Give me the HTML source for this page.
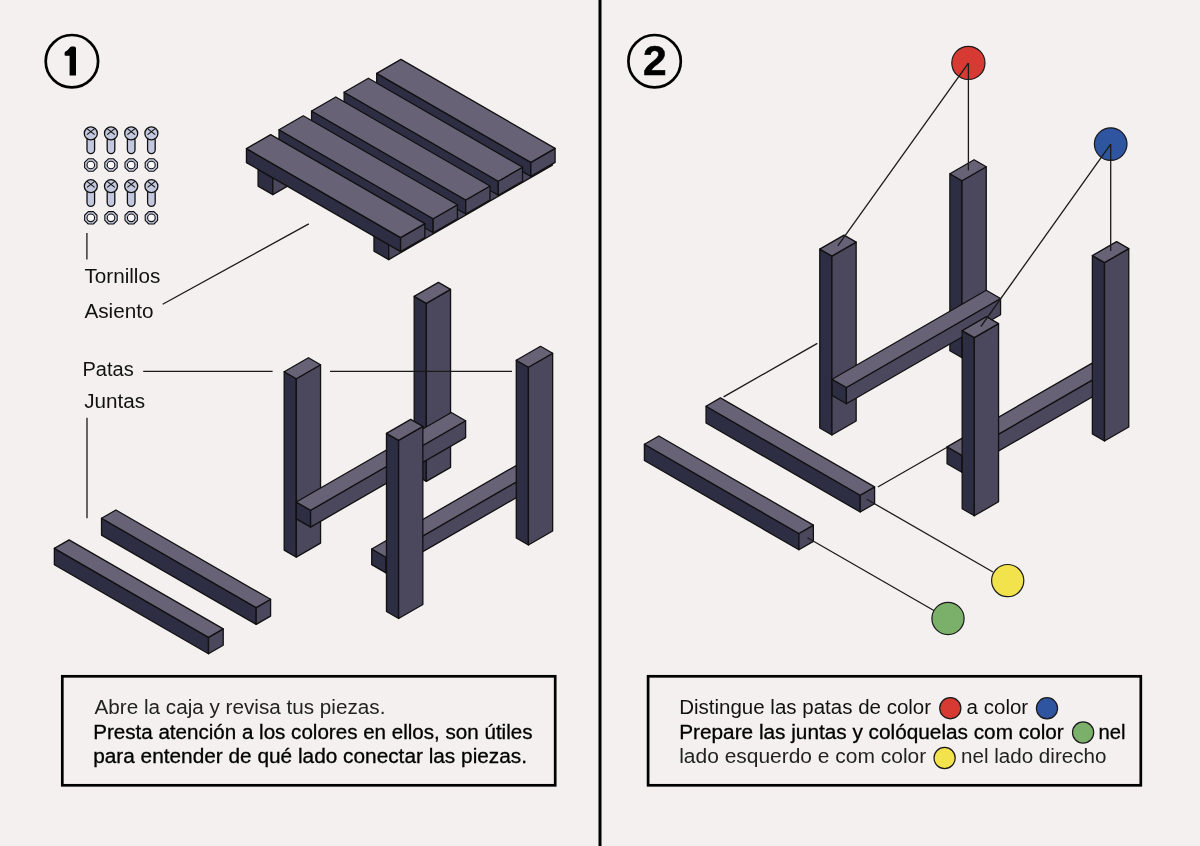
<!DOCTYPE html>
<html><head><meta charset="utf-8"><style>
html,body{margin:0;padding:0;background:#f3f0ef;}
svg{display:block;}
text{font-family:'Liberation Sans',sans-serif;}
svg{will-change:transform;}
</style></head><body>
<svg width="1200" height="846" viewBox="0 0 1200 846">
<rect width="1200" height="846" fill="#f3f0ef"/>
<rect x="598.5" y="0" width="3" height="846" fill="#000"/>
<g stroke="#111" stroke-width="1.3" stroke-linejoin="round">
<polygon points="272.8,177.9 258.08,169.4 258.08,186.1 272.8,194.6" fill="#2d2d43"/><polygon points="272.8,177.9 436.48,83.4 436.48,100.1 272.8,194.6" fill="#4b485e"/>
<polygon points="388.7,242.9 373.98,234.4 373.98,251.1 388.7,259.6" fill="#2d2d43"/><polygon points="388.7,242.9 552.38,148.4 552.38,165.1 388.7,259.6" fill="#4b485e"/>
<polygon points="530.84,162.4 376.69,73.4 376.69,87.4 530.84,176.4" fill="#2d2d43"/><polygon points="530.84,162.4 555.09,148.4 555.09,162.4 530.84,176.4" fill="#4b485e"/><polygon points="530.84,162.4 376.69,73.4 400.94,59.4 555.09,148.4" fill="#686277"/>
<polygon points="498.28,181.2 344.13,92.2 344.13,106.2 498.28,195.2" fill="#2d2d43"/><polygon points="498.28,181.2 522.53,167.2 522.53,181.2 498.28,195.2" fill="#4b485e"/><polygon points="498.28,181.2 344.13,92.2 368.38,78.2 522.53,167.2" fill="#686277"/>
<polygon points="465.72,200 311.57,111 311.57,125 465.72,214" fill="#2d2d43"/><polygon points="465.72,200 489.97,186 489.97,200 465.72,214" fill="#4b485e"/><polygon points="465.72,200 311.57,111 335.82,97 489.97,186" fill="#686277"/>
<polygon points="433.16,218.8 279.01,129.8 279.01,143.8 433.16,232.8" fill="#2d2d43"/><polygon points="433.16,218.8 457.41,204.8 457.41,218.8 433.16,232.8" fill="#4b485e"/><polygon points="433.16,218.8 279.01,129.8 303.26,115.8 457.41,204.8" fill="#686277"/>
<polygon points="400.6,237.6 246.45,148.6 246.45,162.6 400.6,251.6" fill="#2d2d43"/><polygon points="400.6,237.6 424.85,223.6 424.85,237.6 400.6,251.6" fill="#4b485e"/><polygon points="400.6,237.6 246.45,148.6 270.7,134.6 424.85,223.6" fill="#686277"/>
<polygon points="426.3,303.4 414.18,296.4 414.18,474.4 426.3,481.4" fill="#2d2d43"/><polygon points="426.3,303.4 450.55,289.4 450.55,467.4 426.3,481.4" fill="#4b485e"/><polygon points="426.3,303.4 414.18,296.4 438.42,282.4 450.55,289.4" fill="#686277"/>
<polygon points="296.3,378.7 284.18,371.7 284.18,550.1 296.3,557.1" fill="#2d2d43"/><polygon points="296.3,378.7 320.55,364.7 320.55,543.1 296.3,557.1" fill="#4b485e"/><polygon points="296.3,378.7 284.18,371.7 308.42,357.7 320.55,364.7" fill="#686277"/>
<polygon points="310.6,510.3 296.31,502.05 296.31,518.85 310.6,527.1" fill="#2d2d43"/><polygon points="310.6,510.3 465.62,420.8 465.62,437.6 310.6,527.1" fill="#4b485e"/><polygon points="310.6,510.3 296.31,502.05 451.33,412.55 465.62,420.8" fill="#686277"/>
<polygon points="386,557.2 371.71,548.95 371.71,564.65 386,572.9" fill="#2d2d43"/><polygon points="386,557.2 540.15,468.2 540.15,483.9 386,572.9" fill="#4b485e"/><polygon points="386,557.2 371.71,548.95 525.86,459.95 540.15,468.2" fill="#686277"/>
<polygon points="528.4,367.3 516.28,360.3 516.28,538 528.4,545" fill="#2d2d43"/><polygon points="528.4,367.3 552.65,353.3 552.65,531 528.4,545" fill="#4b485e"/><polygon points="528.4,367.3 516.28,360.3 540.52,346.3 552.65,353.3" fill="#686277"/>
<polygon points="398.6,440.4 386.48,433.4 386.48,611.5 398.6,618.5" fill="#2d2d43"/><polygon points="398.6,440.4 422.85,426.4 422.85,604.5 398.6,618.5" fill="#4b485e"/><polygon points="398.6,440.4 386.48,433.4 410.72,419.4 422.85,426.4" fill="#686277"/>
<polygon points="256.2,607.6 101.53,518.3 101.53,535.1 256.2,624.4" fill="#2d2d43"/><polygon points="256.2,607.6 270.58,599.3 270.58,616.1 256.2,624.4" fill="#4b485e"/><polygon points="256.2,607.6 101.53,518.3 115.9,510 270.58,599.3" fill="#686277"/>
<polygon points="208.5,637.4 54.35,548.4 54.35,564.7 208.5,653.7" fill="#2d2d43"/><polygon points="208.5,637.4 223.22,628.9 223.22,645.2 208.5,653.7" fill="#4b485e"/><polygon points="208.5,637.4 54.35,548.4 69.07,539.9 223.22,628.9" fill="#686277"/>
<polygon points="962,180.8 949.88,173.8 949.88,350.8 962,357.8" fill="#2d2d43"/><polygon points="962,180.8 986.25,166.8 986.25,343.8 962,357.8" fill="#4b485e"/><polygon points="962,180.8 949.88,173.8 974.12,159.8 986.25,166.8" fill="#686277"/>
<polygon points="831.9,256.1 819.78,249.1 819.78,428 831.9,435" fill="#2d2d43"/><polygon points="831.9,256.1 856.15,242.1 856.15,421 831.9,435" fill="#4b485e"/><polygon points="831.9,256.1 819.78,249.1 844.02,235.1 856.15,242.1" fill="#686277"/>
<polygon points="846.4,387.5 832.11,379.25 832.11,395.55 846.4,403.8" fill="#2d2d43"/><polygon points="846.4,387.5 1000.55,298.5 1000.55,314.8 846.4,403.8" fill="#4b485e"/><polygon points="846.4,387.5 832.11,379.25 986.26,290.25 1000.55,298.5" fill="#686277"/>
<polygon points="961.8,455.4 947.08,446.9 947.08,463.7 961.8,472.2" fill="#2d2d43"/><polygon points="961.8,455.4 1115.95,366.4 1115.95,383.2 961.8,472.2" fill="#4b485e"/><polygon points="961.8,455.4 947.08,446.9 1101.23,357.9 1115.95,366.4" fill="#686277"/>
<polygon points="1104.5,262.6 1092.38,255.6 1092.38,434 1104.5,441" fill="#2d2d43"/><polygon points="1104.5,262.6 1128.75,248.6 1128.75,427 1104.5,441" fill="#4b485e"/><polygon points="1104.5,262.6 1092.38,255.6 1116.62,241.6 1128.75,248.6" fill="#686277"/>
<polygon points="974.3,337.6 962.18,330.6 962.18,508.8 974.3,515.8" fill="#2d2d43"/><polygon points="974.3,337.6 998.55,323.6 998.55,501.8 974.3,515.8" fill="#4b485e"/><polygon points="974.3,337.6 962.18,330.6 986.42,316.6 998.55,323.6" fill="#686277"/>
<polygon points="860.2,495.2 706.05,406.2 706.05,423 860.2,512" fill="#2d2d43"/><polygon points="860.2,495.2 874.58,486.9 874.58,503.7 860.2,512" fill="#4b485e"/><polygon points="860.2,495.2 706.05,406.2 720.42,397.9 874.58,486.9" fill="#686277"/>
<polygon points="798.9,533.5 644.4,444.3 644.4,460.5 798.9,549.7" fill="#2d2d43"/><polygon points="798.9,533.5 813.36,525.15 813.36,541.35 798.9,549.7" fill="#4b485e"/><polygon points="798.9,533.5 644.4,444.3 658.86,435.95 813.36,525.15" fill="#686277"/>
</g>
<line x1="86.9" y1="233" x2="86.9" y2="259.5" stroke="#1a1a1a" stroke-width="1.3"/>
<line x1="162.7" y1="304.2" x2="308.8" y2="223.9" stroke="#1a1a1a" stroke-width="1.3"/>
<line x1="143.2" y1="371.3" x2="272.6" y2="371.3" stroke="#1a1a1a" stroke-width="1.3"/>
<line x1="330" y1="371.3" x2="512" y2="371.3" stroke="#1a1a1a" stroke-width="1.3"/>
<line x1="87" y1="417.7" x2="87" y2="518.2" stroke="#1a1a1a" stroke-width="1.3"/>
<line x1="723.6" y1="396.9" x2="817.3" y2="343.4" stroke="#1a1a1a" stroke-width="1.3"/>
<line x1="877.8" y1="487" x2="948" y2="446.8" stroke="#1a1a1a" stroke-width="1.3"/>
<line x1="866.8" y1="499.3" x2="993" y2="572" stroke="#1a1a1a" stroke-width="1.3"/>
<line x1="807.5" y1="537.7" x2="934.3" y2="610.7" stroke="#1a1a1a" stroke-width="1.3"/>
<circle cx="968.4" cy="62.9" r="16.6" fill="#d63a33" stroke="#1a1a1a" stroke-width="1.2"/><circle cx="1110.7" cy="144.1" r="16.3" fill="#2f54a0" stroke="#1a1a1a" stroke-width="1.2"/><circle cx="1007.7" cy="580.6" r="16.1" fill="#f2e24c" stroke="#1a1a1a" stroke-width="1.2"/><circle cx="948" cy="618.5" r="16.1" fill="#7bb06a" stroke="#1a1a1a" stroke-width="1.2"/><circle cx="950.3" cy="708.2" r="10.6" fill="#d63a33" stroke="#1a1a1a" stroke-width="1.2"/><circle cx="1047" cy="708.3" r="10.6" fill="#2f54a0" stroke="#1a1a1a" stroke-width="1.2"/><circle cx="1083.1" cy="732.5" r="10.6" fill="#7bb06a" stroke="#1a1a1a" stroke-width="1.2"/><circle cx="944.6" cy="758" r="10.6" fill="#f2e24c" stroke="#1a1a1a" stroke-width="1.2"/>
<line x1="968.4" y1="63.1" x2="837.8" y2="245.8" stroke="#1a1a1a" stroke-width="1.3"/><line x1="968.4" y1="63.1" x2="968.4" y2="170.4" stroke="#1a1a1a" stroke-width="1.3"/><line x1="1110.7" y1="144.1" x2="980.9" y2="326.5" stroke="#1a1a1a" stroke-width="1.3"/><line x1="1110.7" y1="144.1" x2="1110.7" y2="251.1" stroke="#1a1a1a" stroke-width="1.3"/>
<rect x="87" y="136.4" width="7.6" height="17.2" rx="3.8" fill="#c3c8de" stroke="#111" stroke-width="1.3"/>
<circle cx="90.8" cy="133.4" r="6.5" fill="#c3c8de" stroke="#111" stroke-width="1.3"/>
<path d="M87,128.6L94.6,134.6M94.6,128.6L87,134.6" stroke="#111" stroke-width="1.1"/>
<polygon points="96.99,167.56 93.36,171.19 88.24,171.19 84.61,167.56 84.61,162.44 88.24,158.81 93.36,158.81 96.99,162.44" fill="#c3c8de" stroke="#111" stroke-width="1.1" stroke-linejoin="round"/>
<circle cx="90.8" cy="165" r="3.8" fill="#fbf9fa" stroke="#111" stroke-width="1.1"/>
<rect x="107.2" y="136.4" width="7.6" height="17.2" rx="3.8" fill="#c3c8de" stroke="#111" stroke-width="1.3"/>
<circle cx="111" cy="133.4" r="6.5" fill="#c3c8de" stroke="#111" stroke-width="1.3"/>
<path d="M107.2,128.6L114.8,134.6M114.8,128.6L107.2,134.6" stroke="#111" stroke-width="1.1"/>
<polygon points="117.19,167.56 113.56,171.19 108.44,171.19 104.81,167.56 104.81,162.44 108.44,158.81 113.56,158.81 117.19,162.44" fill="#c3c8de" stroke="#111" stroke-width="1.1" stroke-linejoin="round"/>
<circle cx="111" cy="165" r="3.8" fill="#fbf9fa" stroke="#111" stroke-width="1.1"/>
<rect x="127.4" y="136.4" width="7.6" height="17.2" rx="3.8" fill="#c3c8de" stroke="#111" stroke-width="1.3"/>
<circle cx="131.2" cy="133.4" r="6.5" fill="#c3c8de" stroke="#111" stroke-width="1.3"/>
<path d="M127.4,128.6L135,134.6M135,128.6L127.4,134.6" stroke="#111" stroke-width="1.1"/>
<polygon points="137.39,167.56 133.76,171.19 128.64,171.19 125.01,167.56 125.01,162.44 128.64,158.81 133.76,158.81 137.39,162.44" fill="#c3c8de" stroke="#111" stroke-width="1.1" stroke-linejoin="round"/>
<circle cx="131.2" cy="165" r="3.8" fill="#fbf9fa" stroke="#111" stroke-width="1.1"/>
<rect x="147.6" y="136.4" width="7.6" height="17.2" rx="3.8" fill="#c3c8de" stroke="#111" stroke-width="1.3"/>
<circle cx="151.4" cy="133.4" r="6.5" fill="#c3c8de" stroke="#111" stroke-width="1.3"/>
<path d="M147.6,128.6L155.2,134.6M155.2,128.6L147.6,134.6" stroke="#111" stroke-width="1.1"/>
<polygon points="157.59,167.56 153.96,171.19 148.84,171.19 145.21,167.56 145.21,162.44 148.84,158.81 153.96,158.81 157.59,162.44" fill="#c3c8de" stroke="#111" stroke-width="1.1" stroke-linejoin="round"/>
<circle cx="151.4" cy="165" r="3.8" fill="#fbf9fa" stroke="#111" stroke-width="1.1"/>
<rect x="87" y="189.2" width="7.6" height="17.2" rx="3.8" fill="#c3c8de" stroke="#111" stroke-width="1.3"/>
<circle cx="90.8" cy="186.2" r="6.5" fill="#c3c8de" stroke="#111" stroke-width="1.3"/>
<path d="M87,181.4L94.6,187.4M94.6,181.4L87,187.4" stroke="#111" stroke-width="1.1"/>
<polygon points="96.99,220.36 93.36,223.99 88.24,223.99 84.61,220.36 84.61,215.24 88.24,211.61 93.36,211.61 96.99,215.24" fill="#c3c8de" stroke="#111" stroke-width="1.1" stroke-linejoin="round"/>
<circle cx="90.8" cy="217.8" r="3.8" fill="#fbf9fa" stroke="#111" stroke-width="1.1"/>
<rect x="107.2" y="189.2" width="7.6" height="17.2" rx="3.8" fill="#c3c8de" stroke="#111" stroke-width="1.3"/>
<circle cx="111" cy="186.2" r="6.5" fill="#c3c8de" stroke="#111" stroke-width="1.3"/>
<path d="M107.2,181.4L114.8,187.4M114.8,181.4L107.2,187.4" stroke="#111" stroke-width="1.1"/>
<polygon points="117.19,220.36 113.56,223.99 108.44,223.99 104.81,220.36 104.81,215.24 108.44,211.61 113.56,211.61 117.19,215.24" fill="#c3c8de" stroke="#111" stroke-width="1.1" stroke-linejoin="round"/>
<circle cx="111" cy="217.8" r="3.8" fill="#fbf9fa" stroke="#111" stroke-width="1.1"/>
<rect x="127.4" y="189.2" width="7.6" height="17.2" rx="3.8" fill="#c3c8de" stroke="#111" stroke-width="1.3"/>
<circle cx="131.2" cy="186.2" r="6.5" fill="#c3c8de" stroke="#111" stroke-width="1.3"/>
<path d="M127.4,181.4L135,187.4M135,181.4L127.4,187.4" stroke="#111" stroke-width="1.1"/>
<polygon points="137.39,220.36 133.76,223.99 128.64,223.99 125.01,220.36 125.01,215.24 128.64,211.61 133.76,211.61 137.39,215.24" fill="#c3c8de" stroke="#111" stroke-width="1.1" stroke-linejoin="round"/>
<circle cx="131.2" cy="217.8" r="3.8" fill="#fbf9fa" stroke="#111" stroke-width="1.1"/>
<rect x="147.6" y="189.2" width="7.6" height="17.2" rx="3.8" fill="#c3c8de" stroke="#111" stroke-width="1.3"/>
<circle cx="151.4" cy="186.2" r="6.5" fill="#c3c8de" stroke="#111" stroke-width="1.3"/>
<path d="M147.6,181.4L155.2,187.4M155.2,181.4L147.6,187.4" stroke="#111" stroke-width="1.1"/>
<polygon points="157.59,220.36 153.96,223.99 148.84,223.99 145.21,220.36 145.21,215.24 148.84,211.61 153.96,211.61 157.59,215.24" fill="#c3c8de" stroke="#111" stroke-width="1.1" stroke-linejoin="round"/>
<circle cx="151.4" cy="217.8" r="3.8" fill="#fbf9fa" stroke="#111" stroke-width="1.1"/>
<circle cx="71.9" cy="61.2" r="26.2" fill="none" stroke="#000" stroke-width="2.7"/>
<circle cx="654.6" cy="61.2" r="26.2" fill="none" stroke="#000" stroke-width="2.7"/>
<path d="M69.6,75.5L76,75.5L76,48.6Q76,46.6 74,46.6L71.6,46.6Q70.2,46.6 69.4,48.1Q68,50.4 65.9,51.3Q64.6,51.8 64.6,53.1L64.6,55Q64.6,55.8 65.4,55.8L69.6,55.8Z" fill="#000"/>
<text x="654.8" y="75.3" font-size="42.5" font-weight="bold" text-anchor="middle" fill="#000" stroke="#000" stroke-width="0.6">2</text>
<rect x="62.3" y="676.3" width="492.9" height="109" fill="none" stroke="#000" stroke-width="2.7"/>
<rect x="648.1" y="676.3" width="492.7" height="109" fill="none" stroke="#000" stroke-width="2.7"/>
<text x="84.4" y="282.9" font-size="20" font-weight="normal" fill="#111" textLength="75.9" lengthAdjust="spacingAndGlyphs">Tornillos</text>
<text x="84.4" y="318.3" font-size="20" font-weight="normal" fill="#111" textLength="69.1" lengthAdjust="spacingAndGlyphs">Asiento</text>
<text x="82.5" y="376.1" font-size="20" font-weight="normal" fill="#111" textLength="51.2" lengthAdjust="spacingAndGlyphs">Patas</text>
<text x="84.2" y="408.2" font-size="20" font-weight="normal" fill="#111" textLength="60.9" lengthAdjust="spacingAndGlyphs">Juntas</text>
<text x="94.5" y="714.4" font-size="20" font-weight="normal" fill="#222" textLength="290.9" lengthAdjust="spacingAndGlyphs">Abre la caja y revisa tus piezas.</text>
<text x="93.2" y="738.9" font-size="20" font-weight="normal" fill="#000" stroke="#000" stroke-width="0.3" textLength="439.3" lengthAdjust="spacingAndGlyphs">Presta atención a los colores en ellos, son útiles</text>
<text x="93.2" y="763.1" font-size="20" font-weight="normal" fill="#000" stroke="#000" stroke-width="0.3" textLength="433.8" lengthAdjust="spacingAndGlyphs">para entender de qué lado conectar las piezas.</text>
<text x="679.2" y="714.4" font-size="20" font-weight="normal" fill="#111" textLength="251.9" lengthAdjust="spacingAndGlyphs">Distingue las patas de color</text>
<text x="966.6" y="714.4" font-size="20" font-weight="normal" fill="#111" textLength="61.6" lengthAdjust="spacingAndGlyphs">a color</text>
<text x="679.2" y="739" font-size="20" font-weight="normal" fill="#000" stroke="#000" stroke-width="0.3" textLength="384.6" lengthAdjust="spacingAndGlyphs">Prepare las juntas y colóquelas com color</text>
<text x="1098.4" y="739" font-size="20" font-weight="normal" fill="#000" stroke="#000" stroke-width="0.3" textLength="27" lengthAdjust="spacingAndGlyphs">nel</text>
<text x="679.2" y="763.2" font-size="20" font-weight="normal" fill="#222" textLength="247" lengthAdjust="spacingAndGlyphs">lado esquerdo e com color</text>
<text x="961" y="763.2" font-size="20" font-weight="normal" fill="#222" textLength="145.4" lengthAdjust="spacingAndGlyphs">nel lado direcho</text>
</svg>
</body></html>
